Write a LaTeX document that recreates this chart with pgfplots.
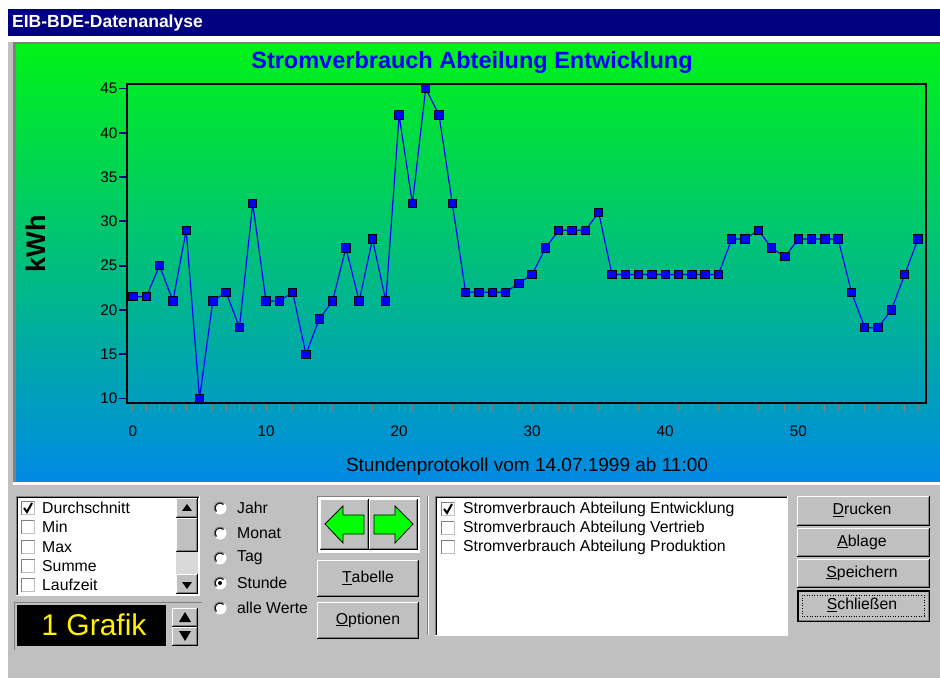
\documentclass[border=0pt]{standalone}
\usepackage{pgfplots}
\pgfplotsset{compat=1.18}
\usepackage{fontspec}
\setmainfont{Liberation Sans}
\definecolor{wingray}{RGB}{192,192,192}
\definecolor{navy}{RGB}{0,0,128}
\definecolor{gtop}{RGB}{0,242,24}
\definecolor{gbot}{RGB}{0,138,228}
\definecolor{darkg}{RGB}{128,128,128}
\begin{document}
\begin{tikzpicture}[x=1pt,y=1pt]
\newcommand{\sunken}[4]{%
  \fill[white] (#1,678-#2) rectangle (#3,678-#4);
  \draw[darkg,line width=1pt] (#1+0.5,678-#4) -- (#1+0.5,678-#2-0.5) -- (#3,678-#2-0.5);
  \draw[black,line width=1pt] (#1+1.5,678-#4+1) -- (#1+1.5,678-#2-1.5) -- (#3-1,678-#2-1.5);
  \draw[white,line width=1pt] (#1,678-#4+0.5) -- (#3-0.5,678-#4+0.5) -- (#3-0.5,678-#2);}
\newcommand{\raised}[4]{%
  \fill[wingray] (#1,678-#2) rectangle (#3,678-#4);
  \draw[white,line width=1pt] (#1+0.5,678-#4) -- (#1+0.5,678-#2-0.5) -- (#3,678-#2-0.5);
  \draw[black,line width=1pt] (#1,678-#4+0.5) -- (#3-0.5,678-#4+0.5) -- (#3-0.5,678-#2);
  \draw[darkg,line width=1pt] (#1+1,678-#4+1.5) -- (#3-1.5,678-#4+1.5) -- (#3-1.5,678-#2-1);}
% page background
\fill[white] (0,0) rectangle (940,678);
\fill[wingray] (8,0) rectangle (940,678-36);
% title bar
\fill[navy] (8,678-9) rectangle (940,678-36);
\node[anchor=west,text=white,font=\fontsize{17.5}{17}\selectfont\bfseries,inner sep=0pt] at (12,678-22.5) {EIB-BDE-Datenanalyse};
% chart frame
\fill[white] (8,678-36) rectangle (940,678-42);
\fill[darkg] (13,678-42) rectangle (940,678-45);
\fill[darkg] (13,678-42) rectangle (16,678-482);
\shade[top color=gtop,bottom color=gbot] (16,678-45) rectangle (940,678-482);
\fill[white] (13,678-482) rectangle (940,678-485);
% chart title and labels
\node[text=blue,font=\fontsize{23.5}{23}\selectfont\bfseries,inner sep=0pt] at (472,678-62) {Stromverbrauch Abteilung Entwicklung};
\node[rotate=90,font=\fontsize{27}{27}\selectfont\bfseries,inner sep=0pt] at (36,678-244) {kWh};
\node[font=\fontsize{19}{19}\selectfont,inner sep=0pt] at (527,678-467) {Stundenprotokoll vom 14.07.1999 ab 11:00};
\begin{axis}[
  at={(127pt,275pt)}, anchor=south west,
  width=799pt, height=319pt, scale only axis,
  xmin=-0.45, xmax=59.6, ymin=9.5, ymax=45.5,
  axis line style={black,line width=1.8pt},
  xtick={0,10,...,50}, minor xtick={0,...,59},
  ytick={10,15,...,45},
  tick align=outside, tick pos=left,
  x tick style={draw=none},
  minor x tick style={draw=darkg,line width=1pt},
  minor tick length=8pt,
  y tick style={draw=navy,line width=1.8pt},
  major tick length=8pt,
  tick label style={font=\fontsize{15.3}{15}\selectfont},
  /pgf/number format/assume math mode=true,
  xticklabel style={yshift=-11pt},
  yticklabel style={xshift=2pt},
  clip=false,
]
\addplot[color=blue,line width=1.2pt,mark=square*,mark size=4.2pt,
  mark options={fill=blue,draw=black,line width=1pt,rounded corners=1pt}]
  coordinates {
(0,21.5)(1,21.5)(2,25)(3,21)(4,29)(5,10)(6,21)(7,22)(8,18)(9,32)
(10,21)(11,21)(12,22)(13,15)(14,19)(15,21)(16,27)(17,21)(18,28)(19,21)
(20,42)(21,32)(22,45)(23,42)(24,32)(25,22)(26,22)(27,22)(28,22)(29,23)
(30,24)(31,27)(32,29)(33,29)(34,29)(35,31)(36,24)(37,24)(38,24)(39,24)
(40,24)(41,24)(42,24)(43,24)(44,24)(45,28)(46,28)(47,29)(48,27)(49,26)
(50,28)(51,28)(52,28)(53,28)(54,22)(55,18)(56,18)(57,20)(58,24)(59,28)
};
\end{axis}
% ===== bottom panel widgets =====
\def\wf{\fontsize{15.8}{15}\selectfont}
% left listbox
\sunken{16}{496}{200}{596}
\foreach \yy/\tt in {508/Durchschnitt,527/Min,547/Max,566/Summe,585/Laufzeit}{
  \fill[white] (21,678-\yy-7) rectangle (35,678-\yy+7);
  \draw[darkg,line width=1pt] (21.5,678-\yy-7) -- (21.5,678-\yy+6.5) -- (35,678-\yy+6.5);
  \draw[wingray,line width=1pt] (21.5,678-\yy-6.5) -- (34.5,678-\yy-6.5) -- (34.5,678-\yy+6.5);
  \node[anchor=west,font=\wf,inner sep=0pt] at (42,678-\yy) {\tt};
}
\draw[black,line width=2pt] (24,678-508) -- (27,678-512) -- (32,678-503);
% scrollbar
\raised{176}{498}{198}{518}
\fill (187,678-504) -- (182,678-511) -- (192,678-511) -- cycle;
\raised{176}{518}{198}{552}
\fill[wingray!60!white] (176,678-552) rectangle (198,678-574);
\raised{176}{574}{198}{594}
\fill (187,678-589) -- (182,678-582) -- (192,678-582) -- cycle;
% 1 Grafik display
\fill[wingray] (14,678-602) rectangle (202,678-650);
\draw[darkg,line width=1pt] (14.5,678-650) -- (14.5,678-602.5) -- (202,678-602.5);
\fill[black] (17,678-605) rectangle (166,678-646);
\node[text=yellow,font=\fontsize{30}{30}\selectfont,inner sep=0pt] at (94,678-625) {1 Grafik};
\raised{172}{608}{198}{627}
\fill (185,678-612) -- (179,678-622) -- (191,678-622) -- cycle;
\raised{172}{627}{198}{646}
\fill (185,678-641) -- (179,678-631) -- (191,678-631) -- cycle;
% radio buttons
\foreach \yy/\tt in {508/Jahr,533/Monat,558/Tag,583/Stunde,608/alle Werte}{
  \fill[white] (220,678-\yy) circle (6.5);
  \draw[darkg,line width=1pt] (220,678-\yy) ++(45:6) arc (45:225:6);
  \draw[black,line width=1pt] (220,678-\yy) ++(45:5) arc (45:225:5);
  \node[anchor=west,font=\wf,inner sep=0pt] at (237,678-\yy) {\tt};
}
\fill[black] (220,678-583) circle (2);
% arrow buttons
\fill[white] (317,678-496) rectangle (420,678-553);
\draw[darkg,line width=1pt] (317.5,678-553) -- (317.5,678-496.5) -- (420,678-496.5);
\raised{320}{499}{369}{550}
\raised{369}{499}{418}{550}
\filldraw[fill=green,draw=black,line width=0.8pt] (325,678-524) -- (343,678-506) -- (343,678-515) -- (364,678-515) -- (364,678-534) -- (343,678-534) -- (343,678-543) -- cycle;
\filldraw[fill=green,draw=black,line width=0.8pt] (413,678-524) -- (395,678-506) -- (395,678-515) -- (374,678-515) -- (374,678-534) -- (395,678-534) -- (395,678-543) -- cycle;
\raised{317}{560}{419}{597}
\node[font=\wf,inner sep=0pt] at (368,678-578) {\underline{T}abelle};
\raised{317}{602}{419}{639}
\node[font=\wf,inner sep=0pt] at (368,678-620) {\underline{O}ptionen};
% separator
\draw[darkg,line width=1pt] (427.5,678-496) -- (427.5,678-635);
\draw[white,line width=1pt] (428.5,678-496) -- (428.5,678-635);
% right listbox
\sunken{435}{496}{788}{636}
\foreach \yy/\tt in {509/Stromverbrauch Abteilung Entwicklung,528/Stromverbrauch Abteilung Vertrieb,547/Stromverbrauch Abteilung Produktion}{
  \fill[white] (441,678-\yy-7) rectangle (455,678-\yy+7);
  \draw[darkg,line width=1pt] (441.5,678-\yy-7) -- (441.5,678-\yy+6.5) -- (455,678-\yy+6.5);
  \draw[wingray,line width=1pt] (441.5,678-\yy-6.5) -- (454.5,678-\yy-6.5) -- (454.5,678-\yy+6.5);
  \node[anchor=west,font=\wf,inner sep=0pt] at (463,678-\yy) {\tt};
}
\draw[black,line width=2pt] (444,678-509) -- (447,678-513) -- (452,678-504);
% right buttons
\raised{797}{496}{930}{526}
\node[font=\wf,inner sep=0pt] at (862,678-510) {\underline{D}rucken};
\raised{797}{528}{930}{557}
\node[font=\wf,inner sep=0pt] at (862,678-542) {\underline{A}blage};
\raised{797}{559}{930}{588}
\node[font=\wf,inner sep=0pt] at (862,678-573) {\underline{S}peichern};
\raised{797}{590}{930}{622}
\draw[black,line width=1.5pt] (797.75,678-590.75) rectangle (929.25,678-621.25);
\draw[black,dotted,line width=0.6pt] (802,678-595) rectangle (924,678-616);
\node[font=\wf,inner sep=0pt] at (862,678-605) {\underline{S}chließen};
\end{tikzpicture}
\end{document}
